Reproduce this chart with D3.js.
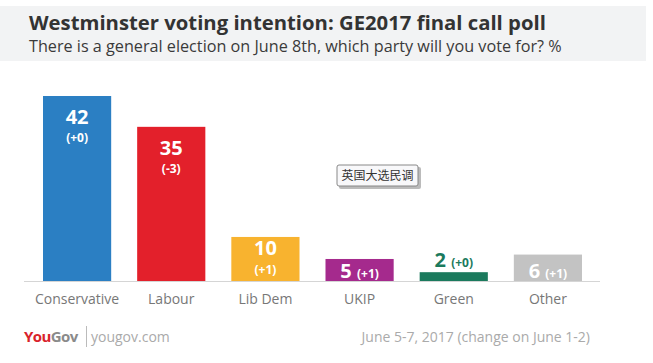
<!DOCTYPE html>
<html>
<head>
<meta charset="utf-8">
<script src="https://cdn.jsdelivr.net/npm/d3@7"></script>
<style>
  body { margin: 0; background: #fff; }
  text { font-family: "Open Sans", Lato, sans-serif; }
</style>
</head>
<body>
<script>
var canvasWidth = 653;
var canvasHeight = 363;

var parties = ["Conservative", "Labour", "Lib Dem", "UKIP", "Green", "Other"];
var shares = [42, 35, 10, 5, 2, 6];
var changes = ["(+0)", "(-3)", "(+1)", "(+1)", "(+0)", "(+1)"];
var colors = ["#2b7fc3", "#e3202b", "#f8b32f", "#a52a8d", "#1b7a5d", "#c3c3c3"];

var svg = d3.select("body").append("svg")
    .attr("width", canvasWidth)
    .attr("height", canvasHeight);

// header band
svg.append("rect")
    .attr("x", 0).attr("y", 6)
    .attr("width", 646).attr("height", 55)
    .attr("fill", "#f2f3f4");

svg.append("text")
    .attr("x", 29).attr("y", 30)
    .attr("font-size", "20.3px")
    .attr("font-weight", "bold")
    .attr("fill", "#333")
    .text("Westminster voting intention: GE2017 final call poll");

svg.append("text")
    .attr("x", 29).attr("y", 52)
    .attr("font-size", "16.2px")
    .attr("fill", "#3a3a3a")
    .text("There is a general election on June 8th, which party will you vote for? %");

var baseline = 281;
var xScale = d3.scaleBand().domain(parties).range([43, 582]).paddingInner(0.276).paddingOuter(0);
var yScale = d3.scaleLinear().domain([0, 42]).range([baseline, 96]);

var chart = svg.append("g");

chart.selectAll("rect.bar").data(parties)
    .enter().append("rect")
    .attr("class", "bar")
    .attr("x", d => xScale(d))
    .attr("y", (d, i) => yScale(shares[i]))
    .attr("width", xScale.bandwidth())
    .attr("height", (d, i) => baseline - yScale(shares[i]))
    .attr("fill", (d, i) => colors[i]);

// axis line
svg.append("line")
    .attr("x1", 24).attr("x2", 600)
    .attr("y1", baseline + 0.5).attr("y2", baseline + 0.5)
    .attr("stroke", "#d5d5d5");

// category labels
chart.selectAll("text.cat").data(parties)
    .enter().append("text")
    .attr("class", "cat")
    .attr("x", d => xScale(d) + xScale.bandwidth() / 2)
    .attr("y", 304)
    .attr("text-anchor", "middle")
    .attr("font-size", "14px")
    .attr("fill", "#777")
    .text(d => d);

// value labels
parties.forEach(function(p, i) {
    var cx = xScale(p) + xScale.bandwidth() / 2;
    var top = yScale(shares[i]);
    if (shares[i] >= 10) {
        var big = shares[i] >= 20;
        chart.append("text")
            .attr("x", cx).attr("y", top + (big ? 28 : 18))
            .attr("text-anchor", "middle")
            .attr("font-size", "20px").attr("font-weight", "bold")
            .attr("fill", "#fff")
            .text(shares[i]);
        chart.append("text")
            .attr("x", cx).attr("y", top + (big ? 46 : 37))
            .attr("text-anchor", "middle")
            .attr("font-size", "12px").attr("font-weight", "bold")
            .attr("fill", "#fff")
            .text(changes[i]);
    } else {
        var inside = shares[i] >= 5;
        var t = chart.append("text")
            .attr("x", cx)
            .attr("y", inside ? baseline - 3 : top - 5)
            .attr("text-anchor", "middle")
            .attr("font-weight", "bold")
            .attr("fill", inside ? "#fff" : colors[i]);
        t.append("tspan").attr("font-size", "20px").text(shares[i] + " ");
        t.append("tspan").attr("font-size", "12px").text(changes[i]);
    }
});

// tooltip-like label box
var tip = svg.append("g").attr("transform", "translate(337,165)");
tip.append("rect")
    .attr("x", 2).attr("y", 2).attr("width", 82).attr("height", 22)
    .attr("fill", "#bbb").attr("rx", 2);
tip.append("rect")
    .attr("x", 0).attr("y", 0).attr("width", 81).attr("height", 21)
    .attr("fill", "#f8f8fa").attr("stroke", "#888").attr("rx", 2);
tip.append("text")
    .attr("x", 40.5).attr("y", 15)
    .attr("text-anchor", "middle")
    .attr("font-size", "12px")
    .attr("fill", "#333")
    .style("font-family", "'Noto Sans CJK SC', sans-serif")
    .text("英国大选民调");

// footer
var logo = svg.append("text")
    .attr("x", 24).attr("y", 342)
    .attr("font-size", "15px").attr("font-weight", "bold")
    .attr("letter-spacing", "-0.6px");
logo.append("tspan").attr("fill", "#d9232b").text("You");
logo.append("tspan").attr("fill", "#8a8a8a").text("Gov");

svg.append("line")
    .attr("x1", 86.5).attr("x2", 86.5)
    .attr("y1", 326).attr("y2", 347)
    .attr("stroke", "#bbb");

svg.append("text")
    .attr("x", 91).attr("y", 342)
    .attr("font-size", "14px")
    .attr("fill", "#aaa")
    .text("yougov.com");

svg.append("text")
    .attr("x", 590).attr("y", 342)
    .attr("text-anchor", "end")
    .attr("font-size", "14px")
    .attr("fill", "#aaa")
    .text("June 5-7, 2017 (change on June 1-2)");
</script>
</body>
</html>
